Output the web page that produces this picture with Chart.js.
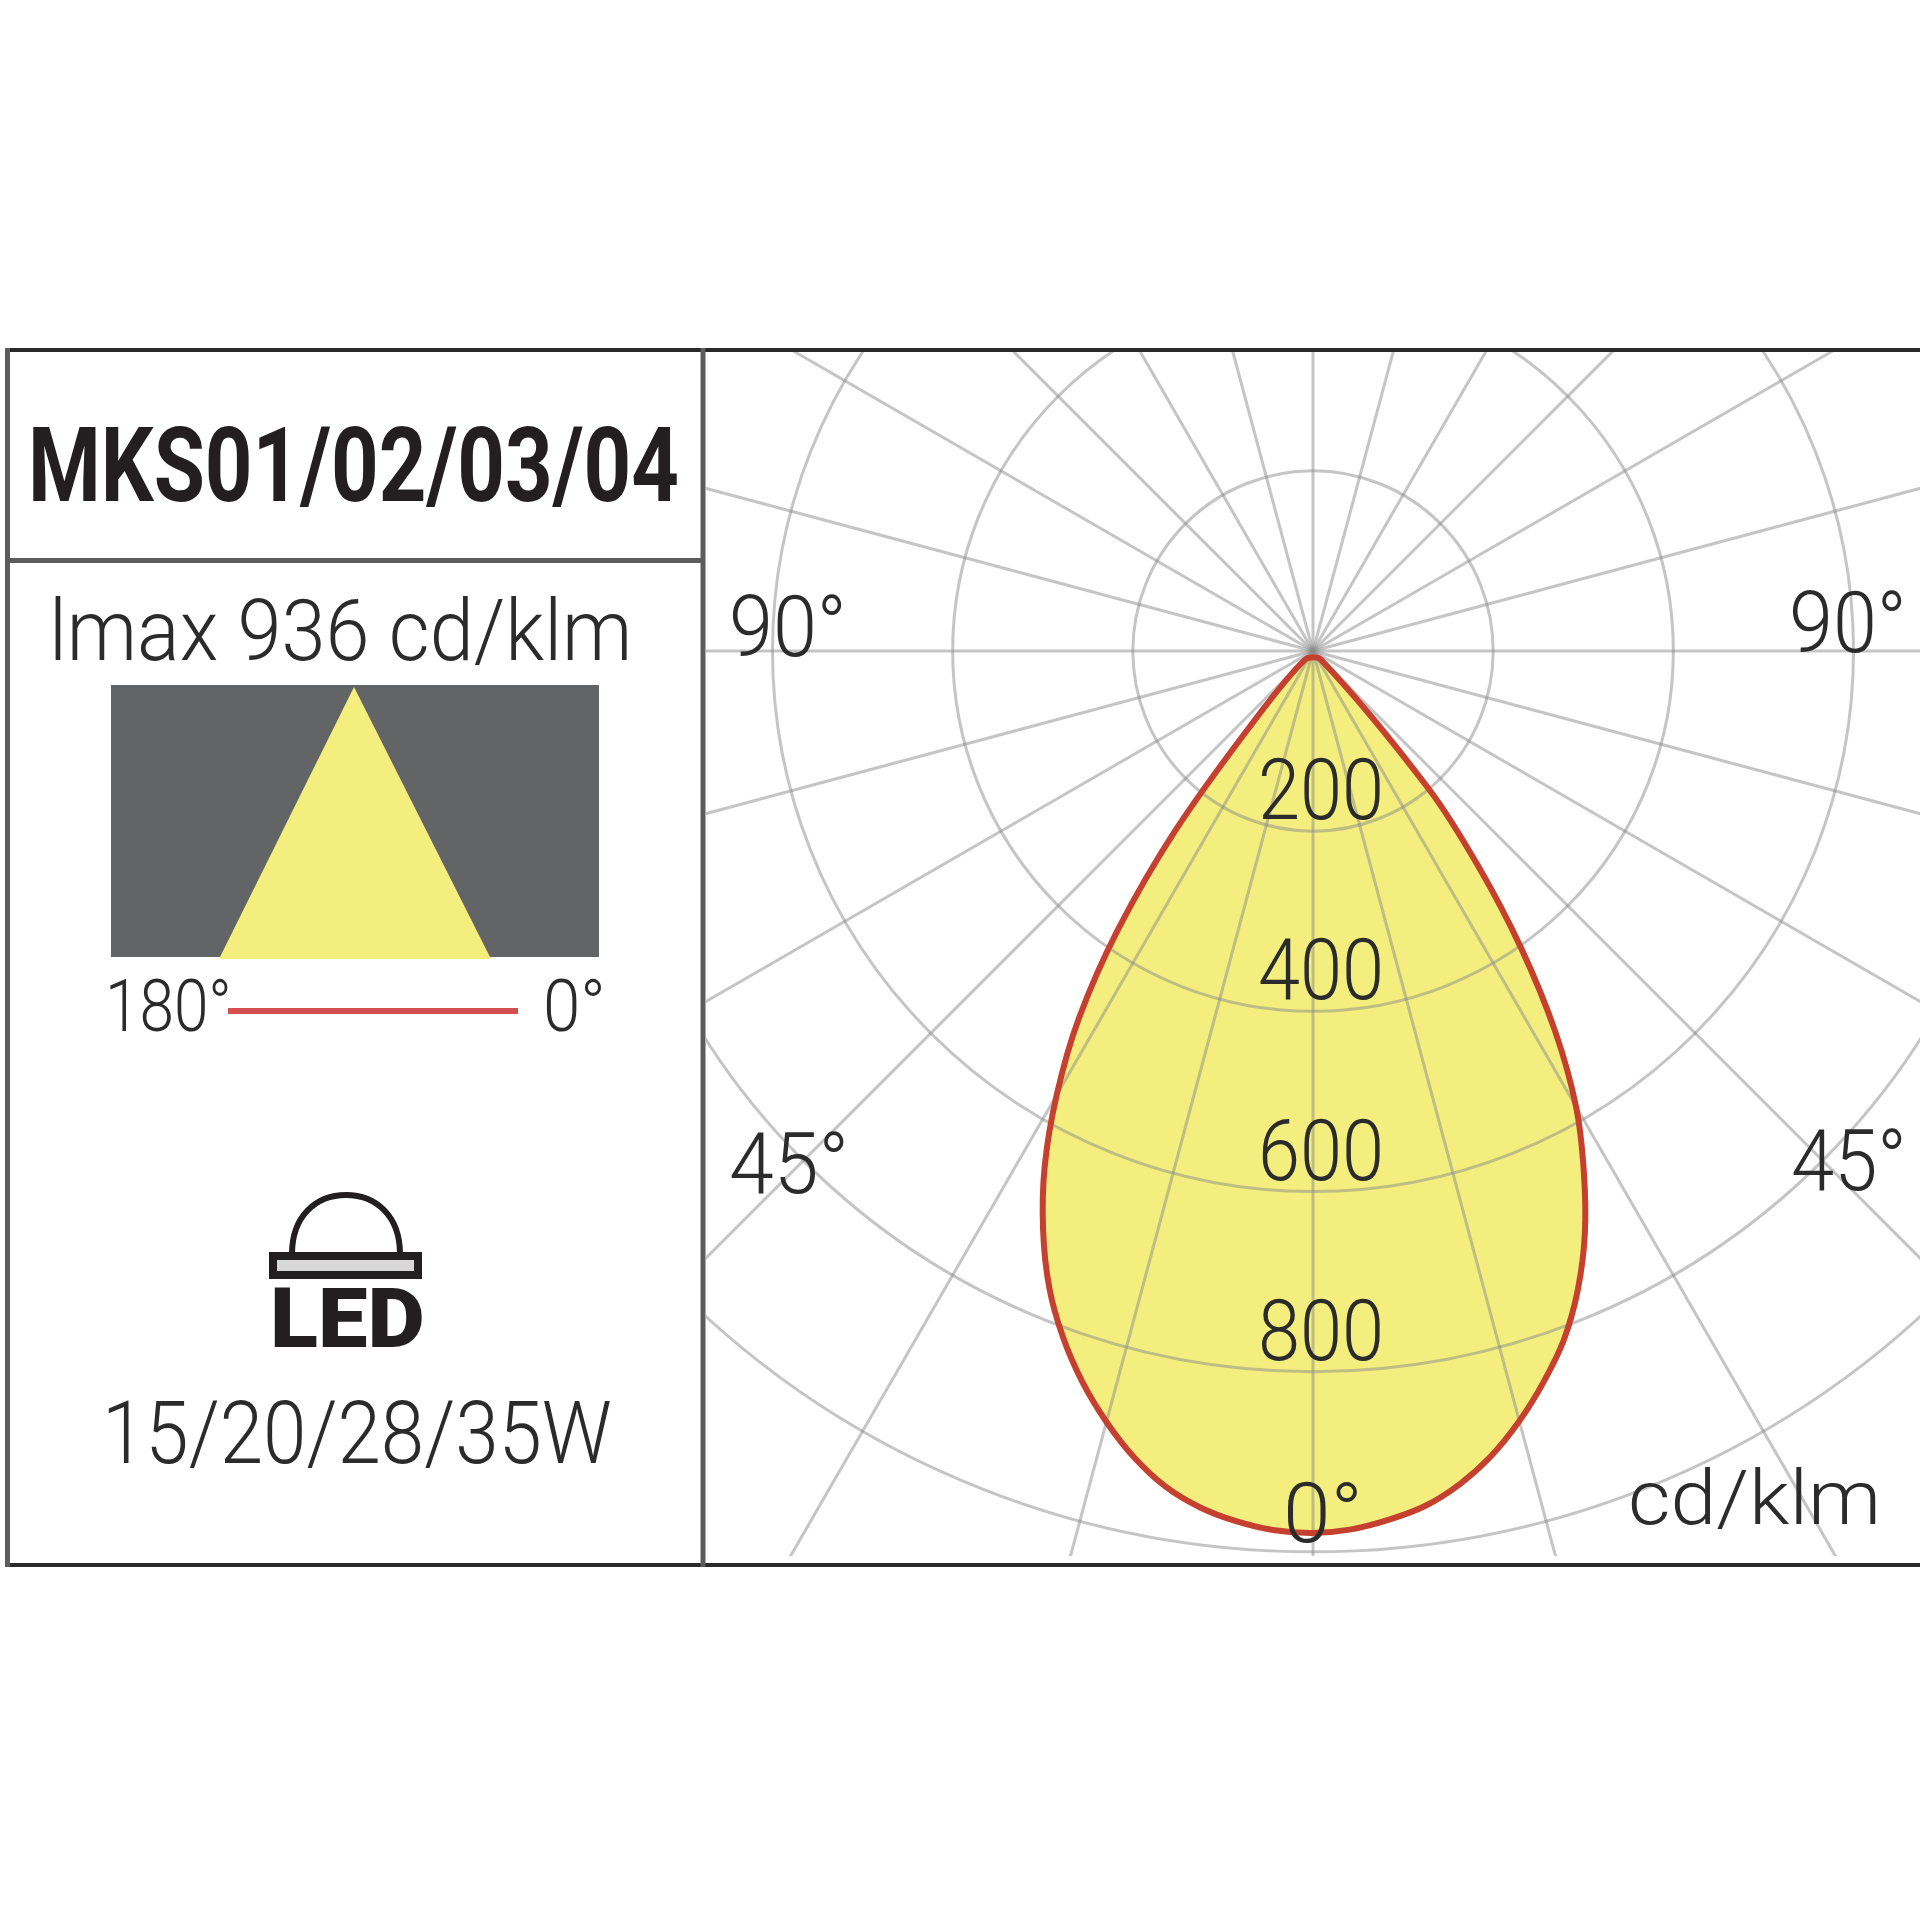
<!DOCTYPE html>
<html>
<head>
<meta charset="utf-8">
<title>MKS01/02/03/04</title>
<script src="https://cdn.jsdelivr.net/npm/chart.js"></script>
<style>
  html, body { margin: 0; padding: 0; background: #fff; }
  body { position: relative; width: 1920px; height: 1920px; overflow: hidden; }
  #panel { position: absolute; left: 0; top: 0; }
  #plot { position: absolute; left: 706px; top: 352px; width: 1214px; height: 1204px; overflow: hidden; }
  #curve { position: absolute; left: -474px; top: -782px; }
  .txt { position: absolute; white-space: nowrap; transform-origin: 0 0; font-family: Roboto, sans-serif; }
</style>
</head>
<body>
<div id="plot"><canvas id="curve" width="2162" height="2162"></canvas></div>
<svg id="panel" width="1920" height="1920" xmlns="http://www.w3.org/2000/svg">
  <rect x="111" y="685" width="488" height="272" fill="#636466"/>
  <polygon points="354,687 219,959 491,959" fill="#f3ee7d"/>
  <rect x="228" y="1008" width="290" height="6" fill="#d2504f"/>
  <path d="M292 1254 C292 1216 316 1195 346 1195 C376 1195 400 1216 400 1254" fill="none" stroke="#231f20" stroke-width="6"/>
  <rect x="273" y="1256" width="145" height="19" fill="#d8d8d8" stroke="#231f20" stroke-width="8"/>
  <rect x="5" y="348" width="1915" height="4" fill="#2a2a2a"/>
  <rect x="5" y="1563" width="1915" height="4" fill="#2a2a2a"/>
  <rect x="5" y="348" width="5" height="1219" fill="#5c5c5c"/>
  <rect x="700.5" y="348" width="5" height="1219" fill="#5c5c5c"/>
  <rect x="5" y="558" width="700" height="5" fill="#5c5c5c"/>
</svg>
<script>
// Luminous intensity in cd/klm, every 2.5 degrees away from the 0 degree axis
const leftValues = [979, 977, 970, 959, 942, 917, 886, 851, 811, 765, 709, 645, 569, 484, 377, 250, 105, 13];
const rightValues = [979, 976, 968, 957, 939, 915, 885, 851, 814, 768, 714, 651, 584, 500, 403, 302, 200, 13];
const tickValues = [200, 400, 600, 800, 1000];
const tickLabels = ['200', '400', '600', '800'];
const stepDegrees = 2.5;
const gridDegrees = 15;
const scaleMax = 1200;

const pointCount = 360 / stepDegrees;
const angleLabels = Array.from({ length: pointCount }, (_, i) => i * stepDegrees);

// index 0 points down, the indexes run clockwise so the left side comes first
function buildSeries() {
    const gap = new Array(pointCount - leftValues.length - rightValues.length + 1).fill(null);
    return [...leftValues, ...gap, ...rightValues.slice(1).reverse()];
}

const inkColor = '#2b2b2b';
const gridColor = 'rgba(140, 140, 140, 0.5)';

/**
 * Value labels sit just above their ring, on the 0 degree axis
 */
const ringLabels = {
    id: 'ringLabels',
    afterDatasetsDraw(chart) {
        const scale = chart.scales.r;
        const ctx = chart.ctx;
        tickLabels.forEach((label, i) => {
            const y = scale.yCenter + scale.getDistanceFromCenterForValue(tickValues[i]) - 12;
            ctx.save();
            ctx.font = '300 86px Roboto';
            ctx.fillStyle = inkColor;
            ctx.textAlign = 'center';
            ctx.textBaseline = 'alphabetic';
            const stretch = 126 / ctx.measureText(label).width;
            ctx.translate(scale.xCenter + 8, y);
            ctx.scale(stretch, 1);
            ctx.fillText(label, 0, 0);
            ctx.restore();
        });
    }
};

new Chart(document.getElementById('curve'), {
    type: 'radar',
    data: {
        labels: angleLabels,
        datasets: [{
            data: buildSeries(),
            borderColor: '#c5402e',
            borderWidth: 6,
            backgroundColor: '#f3ee7d',
            fill: 'start',
            spanGaps: true,
            tension: 0.3,
            pointRadius: 0
        }]
    },
    options: {
        responsive: false,
        animation: false,
        events: [],
        plugins: {
            legend: { display: false },
            tooltip: { enabled: false },
            filler: { drawTime: 'beforeDraw' }
        },
        scales: {
            r: {
                min: 0,
                max: scaleMax,
                startAngle: 180,
                beginAtZero: true,
                ticks: { display: false, stepSize: 200 },
                pointLabels: { display: false },
                grid: {
                    circular: true,
                    lineWidth: 3,
                    color: ctx => (ctx.tick && ctx.tick.value >= scaleMax ? 'transparent' : gridColor)
                },
                angleLines: {
                    display: true,
                    lineWidth: 3,
                    color: ctx => (ctx.index % (gridDegrees / stepDegrees) === 0 ? gridColor : 'transparent')
                }
            }
        }
    },
    plugins: [ringLabels]
});

/**
 * Put one line of text so its ink fills the given width and sits on the baseline
 */
function placeText(text, left, baseline, width, size, weight, color) {
    const probe = document.createElement('canvas').getContext('2d');
    probe.font = `${weight} ${size}px Roboto`;
    const m = probe.measureText(text);
    const ink = m.actualBoundingBoxLeft + m.actualBoundingBoxRight;
    const stretch = width / ink;
    const el = document.createElement('div');
    el.className = 'txt';
    el.textContent = text;
    el.style.font = `${weight} ${size}px Roboto`;
    el.style.lineHeight = 'normal';
    el.style.color = color;
    el.style.left = (left + m.actualBoundingBoxLeft * stretch) + 'px';
    el.style.top = (baseline - m.fontBoundingBoxAscent) + 'px';
    el.style.transform = `scaleX(${stretch})`;
    document.body.appendChild(el);
}

placeText('MKS01/02/03/04', 33, 501, 644, 104, 700, '#231f20');
placeText('lmax 936 cd/klm', 55, 660, 572, 86, 300, inkColor);
placeText('180°', 110, 1031, 118, 72, 300, inkColor);
placeText('0°', 547, 1031, 55, 72, 300, inkColor);
placeText('LED', 274, 1347, 148, 84, 900, '#231f20');
placeText('15/20/28/35W', 108, 1463, 502, 88, 300, inkColor);
placeText('90°', 733, 656, 109, 86, 300, inkColor);
placeText('90°', 1793, 652, 109, 86, 300, inkColor);
placeText('45°', 731, 1193, 113, 86, 300, inkColor);
placeText('45°', 1793, 1190, 109, 86, 300, inkColor);
placeText('0°', 1287, 1542, 70, 84, 300, inkColor);
placeText('cd/klm', 1631, 1524, 244, 76, 300, inkColor);
</script>
</body>
</html>
